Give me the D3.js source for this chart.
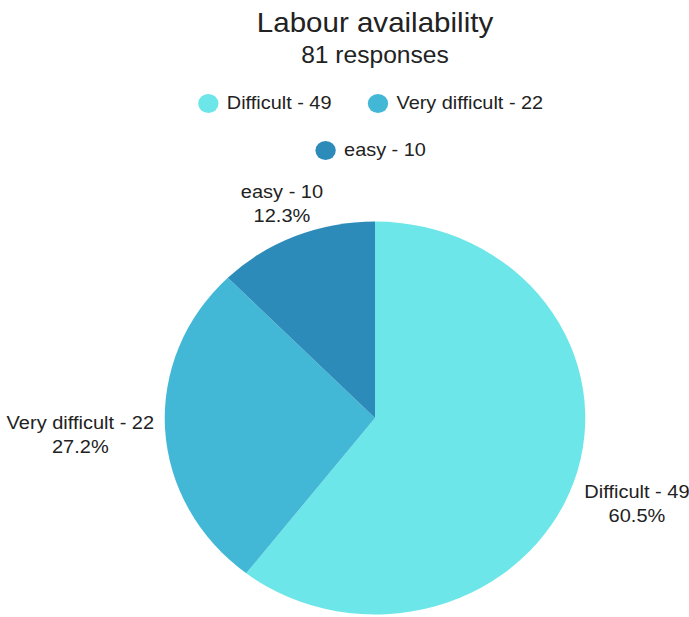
<!DOCTYPE html>
<html>
<head>
<meta charset="utf-8">
<script src="https://cdn.jsdelivr.net/npm/d3@7"></script>
<style>
  html, body { margin: 0; padding: 0; background: #fff; }
  text { font-family: "Liberation Sans", Arial, sans-serif; fill: #222; }
</style>
</head>
<body>
<svg id="chart" width="689" height="617"></svg>
<script>
const title = "Labour availability";
const subtitle = "81 responses";
const categories = ["Difficult", "Very difficult", "easy"];
const values = [49, 22, 10];
const colors = ["#6ce6e8", "#42b8d6", "#2d8bba"];

const W = 689, H = 617;
const sx = 1.07;            // horizontal stretch of the reference
const cx = 375, cy = 418;   // pie centre (final pixels)
const R = 196.5;            // vertical radius

const svg = d3.select("#chart");
svg.append("rect").attr("width", W).attr("height", H).attr("fill", "#fff");
const root = svg.append("g").attr("transform", `scale(${sx},1)`);

// Title
root.append("text").attr("x", cx / sx).attr("y", 32)
  .attr("text-anchor", "middle").attr("font-size", 27.6).text(title);
root.append("text").attr("x", cx / sx).attr("y", 63)
  .attr("text-anchor", "middle").attr("font-size", 23).text(subtitle);

// Legend
const total = d3.sum(values);
const color = d3.scaleOrdinal().domain(categories).range(colors);
const legendFont = 18.6, dotR = 9.5, dotGap = 9, itemGap = 37, maxRow = 400;
const items = categories.map((c, i) => ({ c, label: `${c} - ${values[i]}` }));
const meas = root.append("text").attr("font-size", legendFont);
items.forEach(it => { meas.text(it.label); it.w = meas.node().getComputedTextLength() * sx; });
meas.remove();
const rows = [];
let cur = [], curW = 0;
items.forEach(it => {
  const iw = dotR * 2 + dotGap + it.w;
  const add = cur.length ? itemGap + iw : iw;
  if (cur.length && curW + add > maxRow) { rows.push({ items: cur, w: curW }); cur = []; curW = 0; }
  curW += cur.length ? itemGap + iw : iw;
  cur.push(it);
});
if (cur.length) rows.push({ items: cur, w: curW });
const legendCx = 371, rowY0 = 103.5, rowStep = 47;
rows.forEach((row, ri) => {
  let x = legendCx - row.w / 2;
  const y = rowY0 + ri * rowStep;
  row.items.forEach(it => {
    root.append("circle").attr("cx", (x + dotR) / sx).attr("cy", y).attr("r", dotR)
      .attr("fill", color(it.c));
    root.append("text").attr("x", (x + dotR * 2 + dotGap) / sx).attr("y", y + 6)
      .attr("font-size", legendFont).text(it.label);
    x += dotR * 2 + dotGap + it.w + itemGap;
  });
});

// Pie
const pie = d3.pie().sort(null).value(d => d.v);
const arcs = pie(categories.map((c, i) => ({ c, v: values[i] })));
const arc = d3.arc().innerRadius(0).outerRadius(R);
const pg = root.append("g").attr("transform", `translate(${cx / sx},${cy})`);
pg.selectAll("path").data(arcs).join("path")
  .attr("d", arc).attr("fill", d => color(d.data.c));

// Labels
const labelFont = 18.7, pad = 11;
arcs.forEach(d => {
  const a = (d.startAngle + d.endAngle) / 2;
  const ux = Math.sin(a), uy = -Math.cos(a);
  const g = root.append("g");
  const t = g.append("text").attr("text-anchor", "middle").attr("font-size", labelFont);
  t.append("tspan").attr("x", 0).attr("y", 0).text(`${d.data.c} - ${d.data.v}`);
  t.append("tspan").attr("x", 0).attr("y", 24).text(`${(d.data.v / total * 100).toFixed(1)}%`);
  const bb = g.node().getBBox();
  const w = bb.width * sx, h = bb.height;
  const px = cx + R * sx * ux, py = cy + R * uy;
  const tx = Math.abs(ux) > 1e-6 ? (w / 2) / Math.abs(ux) : Infinity;
  const ty = Math.abs(uy) > 1e-6 ? (h / 2) / Math.abs(uy) : Infinity;
  const tt = Math.min(tx, ty) + pad;
  const lx = px + ux * tt, ly = py + uy * tt;
  g.attr("transform", `translate(${lx / sx - (bb.x + bb.width / 2)},${ly - (bb.y + bb.height / 2)})`);
});
</script>
</body>
</html>
